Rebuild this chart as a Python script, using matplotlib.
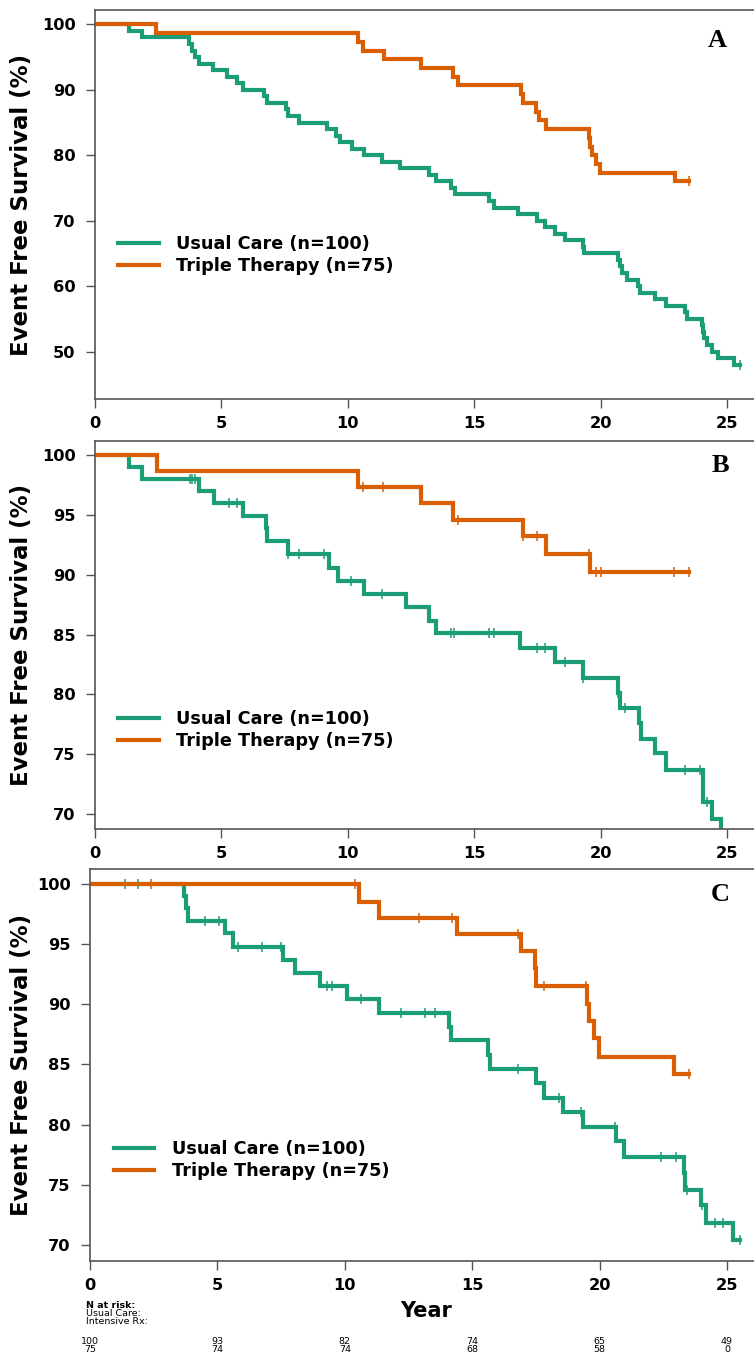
import numpy as np
import matplotlib
matplotlib.use("Agg")
import matplotlib.pyplot as plt
from matplotlib.transforms import blended_transform_factory

GREEN = "#1b9e77"
ORANGE = "#d95f02"
LABEL_UC = "Usual Care (n=100)"
LABEL_TT = "Triple Therapy (n=75)"

# ---- Panel A: event times (years) and survival (%) after each event ----
a_uc_times = [1.36, 1.87, 3.73, 3.85, 3.95, 4.1, 4.68, 5.23, 5.6, 5.87, 6.7, 6.8,
              7.55, 7.65, 8.08, 9.19, 9.55, 9.7, 10.15, 10.66, 11.37, 12.06, 13.2,
              13.5, 14.1, 14.25, 15.6, 15.8, 16.75, 17.47, 17.8, 18.2, 18.6, 19.3,
              19.35, 20.7, 20.75, 20.85, 21.03, 21.5, 21.55, 22.15, 22.6, 23.35,
              23.4, 24.0, 24.05, 24.1, 24.2, 24.4, 24.66, 25.26]
a_uc_surv = [99, 98, 97, 96, 95, 94, 93, 92, 91, 90, 89, 88, 87, 86, 85, 84, 83, 82,
             81, 80, 79, 78, 77, 76, 75, 74, 73, 72, 71, 70, 69, 68, 67, 66, 65, 64,
             63, 62, 61, 60, 59, 58, 57, 56, 55, 54, 53, 52, 51, 50, 49, 48]
a_uc_end = 25.5
a_uc_censor = [25.5]

a_tt_times = [2.41, 10.41, 10.62, 11.42, 12.88, 14.18, 14.37, 16.85, 16.95, 17.45,
              17.55, 17.83, 19.55, 19.6, 19.65, 19.8, 19.98, 22.94]
a_tt_surv = [98.67, 97.33, 96.0, 94.67, 93.33, 92.0, 90.67, 89.33, 88.0, 86.67,
             85.33, 84.0, 82.67, 81.33, 80.0, 78.67, 77.33, 76.0]
a_tt_end = 23.5
a_tt_censor = [23.5]

# ---- Panel B ----
b_uc_times = [1.36, 1.87, 4.1, 4.71, 5.87, 6.75, 6.8, 7.62, 9.26, 9.63, 10.64, 12.3,
              13.2, 13.5, 16.8, 18.2, 19.3, 20.7, 20.75, 21.53, 21.6, 22.15, 22.57,
              24.04, 24.06, 24.4, 24.76]
b_uc_surv = [99.0, 98.0, 97.0, 96.0, 94.9, 93.9, 92.8, 91.7, 90.6, 89.5, 88.4, 87.3,
             86.1, 85.1, 83.9, 82.7, 81.4, 80.1, 78.9, 77.6, 76.3, 75.1, 73.7,
             72.3, 71.0, 69.6, 67.5]
b_uc_end = 24.76
b_uc_censor = [3.75, 3.85, 3.95, 5.3, 5.6, 7.62, 8.08, 9.06, 10.13, 11.34, 14.1, 14.2,
               15.6, 15.8, 17.5, 17.8, 18.6, 19.3, 20.7, 20.95, 23.35, 23.95, 24.2]

b_tt_times = [2.44, 10.42, 12.88, 14.18, 16.92, 17.84, 19.6]
b_tt_surv = [98.7, 97.35, 96.0, 94.6, 93.2, 91.7, 90.25]
b_tt_end = 23.5
b_tt_censor = [10.6, 11.4, 14.37, 16.95, 17.5, 19.55, 19.8, 20.0, 22.9, 23.5]

# ---- Panel C ----
c_uc_times = [3.7, 3.75, 3.85, 5.3, 5.62, 7.56, 8.05, 9.03, 10.1, 11.34, 14.1, 14.15,
              15.63, 15.68, 17.5, 17.82, 18.58, 19.33, 20.64, 20.96, 23.31, 23.36,
              23.97, 24.18, 25.25]
c_uc_surv = [99.0, 98.0, 96.9, 95.9, 94.8, 93.7, 92.6, 91.5, 90.4, 89.3, 88.1, 87.0,
             85.8, 84.6, 83.5, 82.2, 81.05, 79.8, 78.6, 77.3, 75.95, 74.6, 73.3,
             71.85, 70.4]
c_uc_end = 25.5
c_uc_censor = [1.37, 1.9, 4.5, 5.05, 5.8, 6.75, 7.5, 9.3, 9.5, 10.65, 12.2, 13.15,
               13.54, 16.8, 18.4, 19.27, 20.6, 22.4, 22.99, 23.45, 24.0, 24.51,
               24.84, 25.5]

c_tt_times = [10.57, 11.36, 14.39, 16.9, 17.45, 17.5, 19.52, 19.6, 19.78, 19.99, 22.92]
c_tt_surv = [98.5, 97.2, 95.8, 94.4, 93.0, 91.5, 90.0, 88.65, 87.2, 85.6, 84.2]
c_tt_end = 23.52
c_tt_censor = [2.39, 10.4, 12.9, 14.2, 16.8, 17.8, 19.45, 23.52]

# number at risk table
risk_years = [0, 5, 10, 15, 20, 25]
risk_uc = [100, 93, 82, 74, 65, 49]
risk_tt = [75, 74, 74, 68, 58, 0]

BOLD = dict(family="DejaVu Sans", weight="bold")


def km_curve(ax, times, surv, end, censor, color, label):
    x = np.r_[0, times, end]
    y = np.r_[100, surv, surv[-1]]
    line, = ax.step(x, y, where="post", color=color, lw=3, label=label,
                    solid_joinstyle="miter")
    if censor:
        idx = np.searchsorted(x, censor, side="right") - 1
        ax.plot(censor, y[idx], ls="none", marker="|", ms=7, mew=1.1, color=color)
    return line


fig = plt.figure(figsize=(7.54, 13.57), dpi=100)

panels = [
    # rect, xlim, ylim, yticks, letter, letter pos, legend anchor, data
    ([0.1260, 0.70597, 0.8740, 0.28666], 26.07, (42.74, 102.2), np.arange(50, 101, 10),
     "A", (0.952, 0.970), (0.145, 0.8121),
     (a_uc_times, a_uc_surv, a_uc_end, a_uc_censor),
     (a_tt_times, a_tt_surv, a_tt_end, a_tt_censor)),
    ([0.1260, 0.38909, 0.8740, 0.28592], 26.07, (68.75, 101.17), np.arange(70, 101, 5),
     "B", (0.956, 0.6566), (0.145, 0.4621),
     (b_uc_times, b_uc_surv, b_uc_end, b_uc_censor),
     (b_tt_times, b_tt_surv, b_tt_end, b_tt_censor)),
    ([0.11936, 0.07074, 0.88064, 0.28887], 26.06, (68.67, 101.24), np.arange(70, 101, 5),
     "C", (0.955, 0.3405), (0.139, 0.1452),
     (c_uc_times, c_uc_surv, c_uc_end, c_uc_censor),
     (c_tt_times, c_tt_surv, c_tt_end, c_tt_censor)),
]

axes = []
for rect, xmax, ylim, yticks, letter, lpos, leg_anchor, uc, tt in panels:
    ax = fig.add_axes(rect)
    l1 = km_curve(ax, *uc, GREEN, LABEL_UC)
    l2 = km_curve(ax, *tt, ORANGE, LABEL_TT)
    ax.set_xlim(0, xmax)
    ax.set_ylim(*ylim)
    ax.set_xticks([0, 5, 10, 15, 20, 25])
    ax.set_yticks(yticks)
    ax.spines["right"].set_visible(False)
    for s in ["left", "bottom", "top"]:
        ax.spines[s].set_color("#555555")
        ax.spines[s].set_linewidth(1.2)
    ax.tick_params(axis="both", length=6.5, width=1, color="#555555", labelsize=11.7)
    ax.tick_params(axis="y", pad=7.5)
    ax.tick_params(axis="x", pad=6)
    for t in ax.get_xticklabels() + ax.get_yticklabels():
        t.set_fontweight("bold")
    pos = ax.get_position()
    fig.text(0.029, pos.y0 + pos.height * 0.5, "Event Free Survival (%)", rotation=90,
             ha="center", va="center", fontsize=16.5, **BOLD)
    fig.text(lpos[0], lpos[1], letter, ha="center", va="center", fontsize=19,
             family=["Liberation Serif", "DejaVu Serif"], weight="bold")
    ax.legend(handles=[l1, l2], loc="center left", bbox_to_anchor=leg_anchor,
              bbox_transform=fig.transFigure, frameon=False, borderpad=0,
              handlelength=2.3, handletextpad=1.0, labelspacing=0.2,
              prop=dict(family="DejaVu Sans", weight="bold", size=12.7))
    axes.append(ax)

# bottom: axis title and number-at-risk table
ax_c = axes[-1]
fig.text(0.565, 1 - 1311 / 1357, "Year", ha="center", va="center", fontsize=15, **BOLD)
small = dict(family=["Liberation Sans Narrow", "DejaVu Sans"], fontsize=6.8)
fig.text(0.114, 1 - 1306 / 1357, "N at risk:", ha="left", va="center",
         weight="bold", **small)
fig.text(0.114, 1 - 1314 / 1357, "Usual Care:", ha="left", va="center", **small)
fig.text(0.114, 1 - 1322 / 1357, "Intensive Rx:", ha="left", va="center", **small)
trans = blended_transform_factory(ax_c.transData, fig.transFigure)
for yr, n1, n2 in zip(risk_years, risk_uc, risk_tt):
    ax_c.text(yr, 1 - 1342 / 1357, str(n1), transform=trans, ha="center", va="center",
              clip_on=False, **small)
    ax_c.text(yr, 1 - 1350 / 1357, str(n2), transform=trans, ha="center", va="center",
              clip_on=False, **small)

fig.savefig("out.png", dpi=100)
